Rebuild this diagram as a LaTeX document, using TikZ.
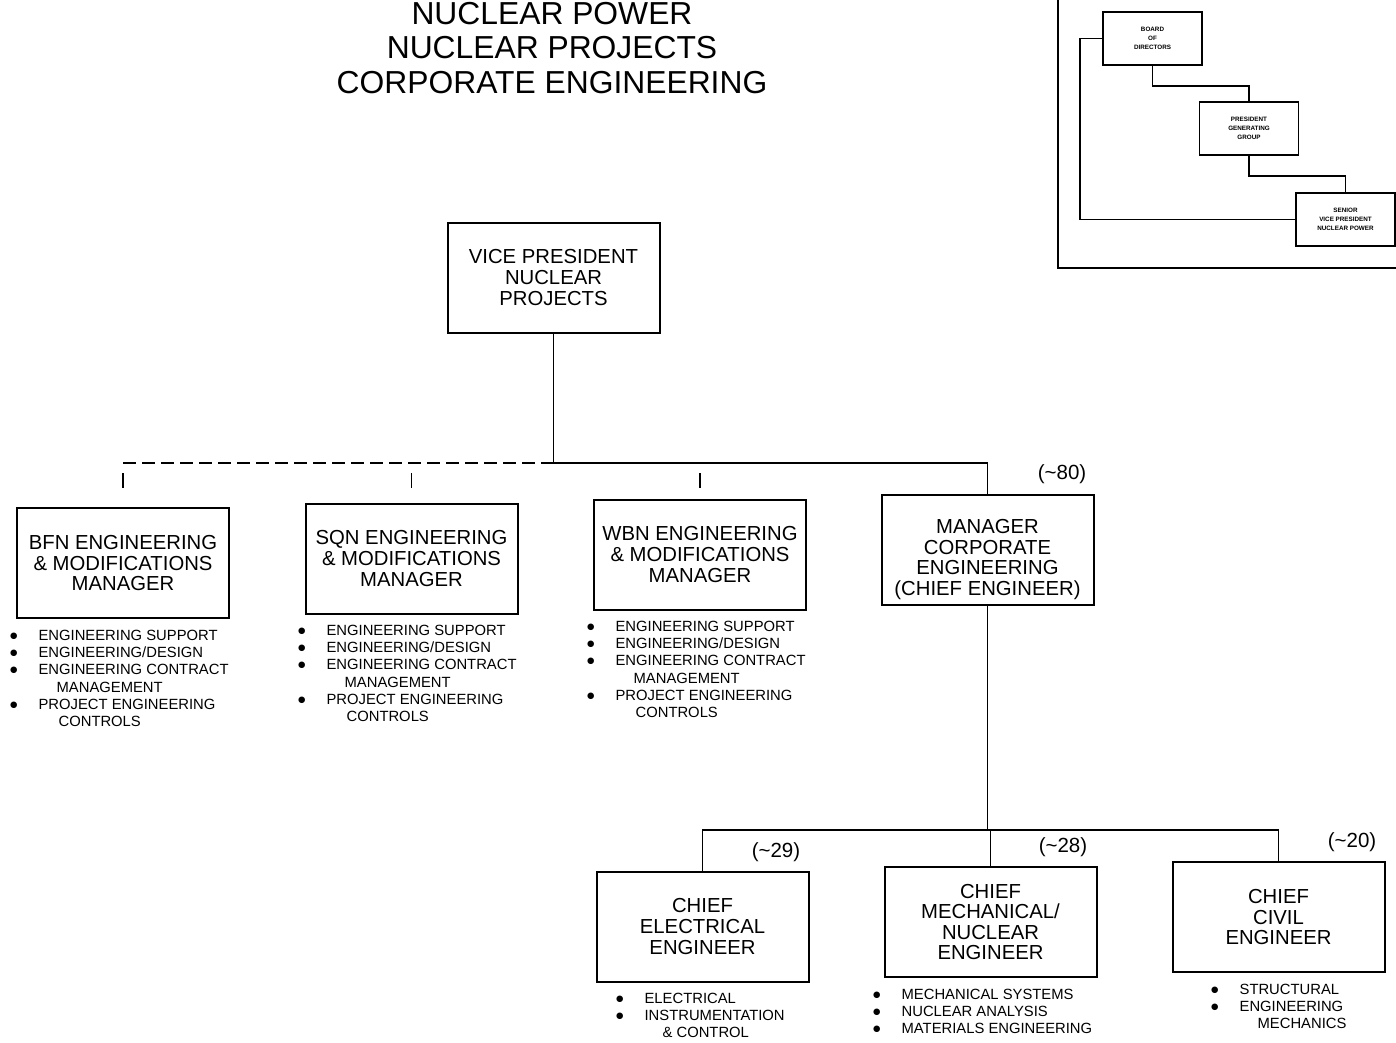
\documentclass[tikz,border=0pt]{standalone}
\usepackage{fontspec}
\setmainfont{Liberation Sans}
\newfontfamily\symfont{DejaVu Sans}
\newcommand\bul{\raisebox{2pt}{\symfont\fontsize{8.5}{9}\selectfont ●}}
\begin{document}
\begin{tikzpicture}[x=1pt,y=-1pt,
  box/.style={draw, line width=2pt, minimum width=212pt, minimum height=110pt, align=center, inner sep=0pt, font=\fontsize{20.3}{20.6}\selectfont},
  ibox/.style={draw, line width=1.8pt, minimum width=99pt, minimum height=53pt, align=center, inner sep=0pt, font=\fontsize{6.3}{8.8}\selectfont\bfseries},
  conn/.style={line width=1.4pt},
  dconn/.style={line width=1.4pt, dash pattern=on 13pt off 6pt},
  tickconn/.style={line width=1.6pt, dash pattern=on 0pt off 10pt on 15pt off 200pt},
  blist/.style={anchor=north west, inner sep=0pt, align=left, font=\fontsize{14.8}{17.2}\selectfont},
  cnt/.style={font=\fontsize{20.5}{22}\selectfont, inner sep=0pt},
  lbl/.style={font=\fontsize{20.3}{20.6}\selectfont, align=center, inner sep=0pt},
  ttl/.style={font=\fontsize{31.8}{34.5}\selectfont, align=center, inner sep=0pt}
]
\useasboundingbox (0,0) rectangle (1396,1042);

% title
\node[ttl] (title) at (552,48) {NUCLEAR POWER\\NUCLEAR PROJECTS\\CORPORATE ENGINEERING};

% inset
\coordinate (ftop) at (1058,0);
\coordinate (fcorner) at (1058,268);
\coordinate (fright) at (1396,268);
\draw[line width=1.6pt] (ftop) -- (fcorner) -- (fright);
\node[ibox] (bod) at (1152.5,38.5) {BOARD\\OF\\DIRECTORS};
\node[ibox] (pgg) at (1249,128.5) {PRESIDENT\\GENERATING\\GROUP};
\node[ibox] (svp) at (1345.5,219.5) {SENIOR\\VICE PRESIDENT\\NUCLEAR POWER};
\draw[conn] (bod.south) -- ++(0,20) -| (pgg.north);
\draw[conn] (pgg.south) -- ++(0,20) -| (svp.north);
\draw[conn] (bod.west) -- ++(-22,0) |- (svp.west);

% main boxes
\node[box] (vp) at (553.5,277.5) {VICE PRESIDENT\\NUCLEAR\\PROJECTS};
\node[box] (bfn) at (123,563) {BFN ENGINEERING\\\& MODIFICATIONS\\MANAGER};
\node[box] (sqn) at (411.5,558.5) {SQN ENGINEERING\\\& MODIFICATIONS\\MANAGER};
\node[box] (wbn) at (700,554.5) {WBN ENGINEERING\\\& MODIFICATIONS\\MANAGER};
\node[box, label={[lbl, yshift=-10pt]center:{MANAGER\\CORPORATE\\ENGINEERING\\(CHIEF ENGINEER)}}] (mce) at (987.5,549.5) {};
\node[box] (cee) at (702.5,926.5) {CHIEF\\ELECTRICAL\\ENGINEER};
\node[box] (cmn) at (990.5,922) {CHIEF\\MECHANICAL/\\NUCLEAR\\ENGINEER};
\node[box] (cce) at (1278.5,917) {CHIEF\\CIVIL\\ENGINEER};

% counts
\node[cnt] (n80) at (1062,474) {(\textasciitilde 80)};
\node[cnt] (n29) at (776,852) {(\textasciitilde 29)};
\node[cnt] (n28) at (1063,847) {(\textasciitilde 28)};
\node[cnt] (n20) at (1352,842) {(\textasciitilde 20)};

% upper connectors
\coordinate (bus) at (553.5,463);
\draw[conn] (vp.south) -- (bus) -| (mce.north);
\draw[dconn] (bus) -- (bfn.north |- bus);
\draw[tickconn] (bfn.north |- bus) -- (bfn.north);
\draw[tickconn] (sqn.north |- bus) -- (sqn.north);
\draw[tickconn] (wbn.north |- bus) -- (wbn.north);

% lower connectors
\coordinate (bus2) at (987.5,830);
\draw[conn] (mce.south) -- (bus2);
\draw[conn] (cee.north) -- (cee.north |- bus2) -| (cce.north);
\draw[conn] (cmn.north) -- (cmn.north |- bus2);

% lists
\node[blist] (bfnl) at (10,628.2) {\begin{tabular}{@{}l@{\hspace{21pt}}l@{}}
\bul & ENGINEERING SUPPORT\\
\bul & ENGINEERING/DESIGN\\
\bul & ENGINEERING CONTRACT\\
 & \hspace{18pt}MANAGEMENT\\
\bul & PROJECT ENGINEERING\\
 & \hspace{20pt}CONTROLS
\end{tabular}};
\node[blist] (sqnl) at (298,623.2) {\begin{tabular}{@{}l@{\hspace{21pt}}l@{}}
\bul & ENGINEERING SUPPORT\\
\bul & ENGINEERING/DESIGN\\
\bul & ENGINEERING CONTRACT\\
 & \hspace{18pt}MANAGEMENT\\
\bul & PROJECT ENGINEERING\\
 & \hspace{20pt}CONTROLS
\end{tabular}};
\node[blist] (wbnl) at (587,619.2) {\begin{tabular}{@{}l@{\hspace{21pt}}l@{}}
\bul & ENGINEERING SUPPORT\\
\bul & ENGINEERING/DESIGN\\
\bul & ENGINEERING CONTRACT\\
 & \hspace{18pt}MANAGEMENT\\
\bul & PROJECT ENGINEERING\\
 & \hspace{20pt}CONTROLS
\end{tabular}};
\node[blist] (ceel) at (616,991.2) {\begin{tabular}{@{}l@{\hspace{21pt}}l@{}}
\bul & ELECTRICAL\\
\bul & INSTRUMENTATION\\
 & \hspace{18pt}\& CONTROL
\end{tabular}};
\node[blist] (cmnl) at (873,987.2) {\begin{tabular}{@{}l@{\hspace{21pt}}l@{}}
\bul & MECHANICAL SYSTEMS\\
\bul & NUCLEAR ANALYSIS\\
\bul & MATERIALS ENGINEERING
\end{tabular}};
\node[blist] (ccel) at (1211,982.2) {\begin{tabular}{@{}l@{\hspace{21pt}}l@{}}
\bul & STRUCTURAL\\
\bul & ENGINEERING\\
 & \hspace{18pt}MECHANICS
\end{tabular}};
\end{tikzpicture}
\end{document}
